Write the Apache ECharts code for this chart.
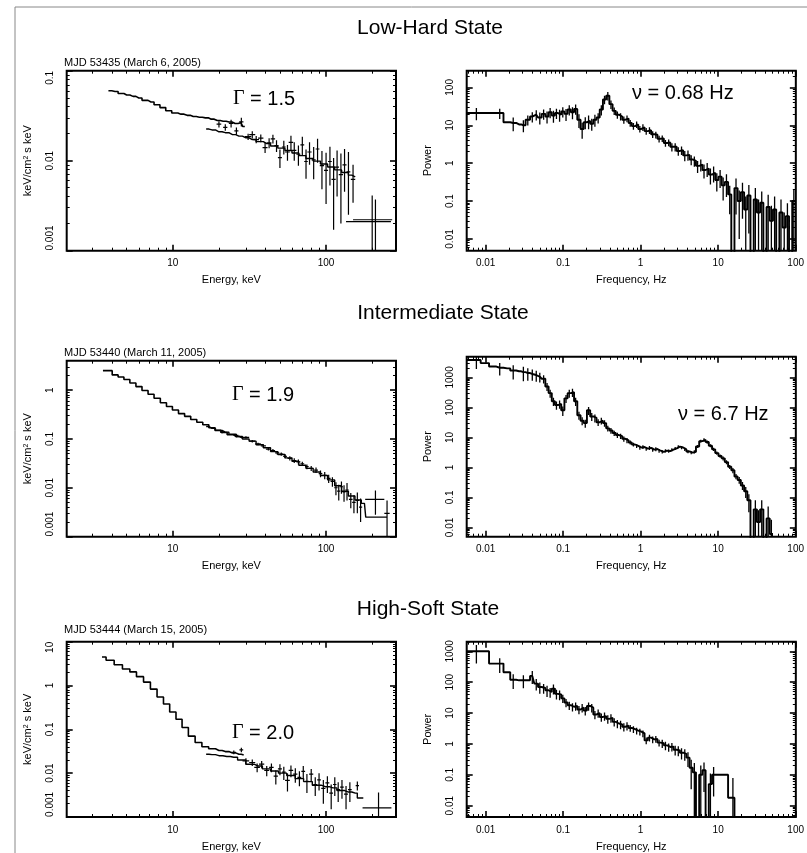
<!DOCTYPE html>
<html><head><meta charset="utf-8">
<script src="https://cdn.jsdelivr.net/npm/echarts@6/dist/echarts.min.js"></script>
<style>html,body{margin:0;padding:0;background:#fff}#c{width:807px;height:853px}</style>
</head><body><div id="c"></div>
<script>
// ---------------- tick values ----------------
const MAJOR_TICKS = [0.001, 0.01, 0.1, 1, 10, 100, 1000];
const MINOR_TICKS = [0.002,0.003,0.004,0.005,0.006,0.007,0.008,0.009,
  0.02,0.03,0.04,0.05,0.06,0.07,0.08,0.09,
  0.2,0.3,0.4,0.5,0.6,0.7,0.8,0.9,
  2,3,4,5,6,7,8,9, 20,30,40,50,60,70,80,90,
  200,300,400,500,600,700,800,900, 2000,3000,4000];

// ---------------- energy spectra ----------------
// [energy keV, flux]
const LH_PCA = [[3.8,0.060],[4.2,0.059],[4.6,0.056],[5.0,0.054],[5.5,0.052],[6.0,0.050],[6.6,0.047],[7.2,0.045],[7.9,0.042],[8.6,0.039],[9.4,0.036],[10.3,0.034],[11.3,0.033],[12.4,0.032],[13.6,0.031],[14.9,0.0305],[16.3,0.030],[17.8,0.029],[19.5,0.028],[21.3,0.0275],[23.3,0.027],[25.5,0.026],[27.8,0.0265],[29.5,0.024]];
const LH_MODEL = [[16.5,0.0225],[18,0.022],[20,0.021],[22,0.0205],[24.5,0.0195],[27,0.0188],[30,0.018],[33,0.0172],[37,0.0163],[41,0.0155],[46,0.0146],[51,0.0138],[57,0.013],[63,0.0122],[70,0.0114],[78,0.0106],[87,0.0099],[97,0.0092],[108,0.0085],[120,0.0079],[133,0.0074],[147,0.0069],[155,0.0066]];
// [energy, half-width, flux, flux error]
const LH_CROSS = [[20,0.7,0.0255,0.002],[22,0.7,0.0235,0.002],[24,0.8,0.026,0.0025],[26,0.8,0.0215,0.002],[28,0.9,0.027,0.003],
  [31,1.5,0.0185,0.0015],[33,1.5,0.0195,0.0018],[35,1.5,0.0172,0.0016],[37.5,1.5,0.0178,0.0018],[40,1.5,0.0140,0.0018],[42.5,1.5,0.0158,0.002],[45,1.5,0.0175,0.002],[47.5,1.5,0.0147,0.0022],[50,1.5,0.0108,0.0025],[53,1.5,0.0142,0.0025],[56,2,0.0125,0.0025],[59,2,0.0160,0.003],[62,2,0.0130,0.003],[66,2,0.0118,0.003],[70,2,0.0150,0.0035],[74,2,0.0098,0.0035],[78,2.5,0.0125,0.0035],[83,2.5,0.0102,0.004],[88,2.5,0.0135,0.004],[94,3,0.0088,0.004],[100,3,0.0078,0.0045],[106,3,0.0098,0.0045],[112,3.5,0.0062,0.0045],[118,3.5,0.0085,0.0045],[125,4,0.0070,0.005],[132,4,0.0090,0.0045],[140,4,0.0075,0.005],[150,5,0.0062,0.0028],
  [200,65,0.0021,0.002],[210,60,0.0022,0.0015]];

const IM_PCA = [[3.5,2.5],[3.85,2.5],[4.2,2.05],[4.6,1.85],[5.0,1.65],[5.5,1.40],[6.0,1.18],[6.6,0.98],[7.2,0.82],[7.9,0.68],[8.7,0.55],[9.5,0.46],[10.4,0.39],[11.4,0.33],[12.5,0.29],[13.7,0.25],[15.0,0.22],[16.4,0.195],[18.0,0.17],[19.7,0.15],[21.6,0.135],[23.7,0.122],[26.0,0.112],[28.5,0.105]];
const IM_MODEL = [[16.5,0.18],[18,0.165],[20,0.15],[22,0.138],[24.5,0.125],[27,0.112],[30,0.1],[33,0.09],[37,0.076],[41,0.066],[46,0.055],[51,0.048],[57,0.041],[63,0.035],[70,0.029],[78,0.025],[87,0.021],[97,0.0178],[108,0.0145],[120,0.011],[133,0.0085],[147,0.0068],[162,0.0056],[178,0.0048],[185,0.0025],[250,0.0025]];
const IM_CROSS = [[21,0.7,0.14,0.01],[26,0.8,0.118,0.01],
  [30,1.5,0.108,0.006],[33,1.5,0.090,0.005],[36,1.5,0.079,0.005],[39,1.5,0.072,0.005],[42,1.5,0.062,0.004],[45,1.5,0.058,0.004],[48,1.5,0.052,0.004],[51,1.5,0.049,0.004],[54,1.5,0.044,0.004],[58,2,0.040,0.004],[62,2,0.036,0.004],[66,2,0.034,0.004],[70,2,0.031,0.003],[75,2,0.027,0.003],[80,2.5,0.025,0.003],[86,2.5,0.023,0.003],[92,2.5,0.0195,0.003],[98,3,0.018,0.003],[104,3,0.0155,0.003],[110,3,0.0135,0.003],[116,3,0.0100,0.003],[121,3,0.0085,0.003],[126,3,0.0105,0.003],[131,3,0.0082,0.003],[137,3.5,0.0090,0.0035],[145,4,0.0058,0.002],[152,4,0.0050,0.002],[160,4,0.0055,0.0025],[168,4,0.0040,0.002],
  [210,30,0.0058,0.003],[250,10,0.003,0.0025]];

const HS_PCA = [[3.45,4.5],[3.9,3.8],[4.4,3.0],[5.0,2.4],[5.5,2.05],[6.1,1.6],[6.8,1.2],[7.5,0.83],[8.3,0.55],[9.1,0.38],[10,0.25],[11,0.17],[12,0.11],[13.3,0.07],[14.7,0.05],[16.3,0.04],[18,0.036],[20,0.033],[22,0.031],[24.5,0.029],[27,0.027],[29,0.026]];
const HS_MODEL = [[16.5,0.027],[18,0.0265],[20,0.025],[22.5,0.024],[25,0.023],[28,0.02],[32,0.016],[36,0.0145],[41,0.0125],[46,0.0112],[52,0.01],[59,0.0088],[67,0.0075],[76,0.0064],[87,0.0053],[99,0.0049],[111,0.0046],[125,0.004],[140,0.0037],[155,0.0035],[165,0.0027],[175,0.0027]];
const HS_CROSS = [[25,0.8,0.030,0.003],[28,0.8,0.034,0.004],
  [30,1.5,0.019,0.003],[33,1.5,0.0175,0.003],[35.5,1.5,0.0135,0.003],[38,1.5,0.016,0.003],[41,1.5,0.0115,0.003],[44,1.5,0.0135,0.003],[47,1.5,0.0085,0.003],[50,1.5,0.0125,0.0035],[53,1.5,0.0105,0.0035],[56,2,0.0068,0.003],[59,2,0.0115,0.0035],[63,2,0.0095,0.0035],[67,2,0.0080,0.003],[71,2,0.0110,0.0035],[75,2,0.0065,0.003],[80,2.5,0.0095,0.003],[85,2.5,0.0055,0.0025],[90,2.5,0.0070,0.003],[96,3,0.0045,0.0025],[102,3,0.0060,0.0025],[108,3,0.0035,0.002],[114,3,0.0055,0.0025],[120,3.5,0.0042,0.002],[127,3.5,0.0048,0.0022],[135,4,0.0033,0.0018],[143,4,0.0042,0.002],[160,4,0.0052,0.0012],
  [220,47,0.0016,0.002]];

// ---------------- power spectra ----------------
const FREQ = [0.0057,0.0076,0.0098,0.0125,0.0152,0.019,0.0227,0.027,0.0307,0.035,0.040,0.045,0.050,
  0.056,0.062,0.068,0.075,0.082,0.090,0.099,0.109,0.120,0.132,
  0.145,0.160,0.176,0.193,0.213,0.234,0.257,0.283,0.311,0.342,
  0.377,0.414,0.456,0.501,0.551,0.607,0.667,0.734,0.807,0.888,
  0.977,1.07,1.18,1.30,1.43,1.57,1.73,1.90,2.09,2.30,
  2.53,2.79,3.06,3.37,3.71,4.08,4.49,4.93,5.43,5.97,
  6.57,7.22,7.95,8.74,9.61,10.6,11.6,12.8,14.1,15.5,
  17.0,18.7,20.6,22.7,24.9,27.4,30.2,33.2,36.5,40.2,
  44.2,48.6,53.5,58.8,64.7,71.2,78.3,86.1,94.7,100];

const LH_POWER = [21,21,21,21,21,12,11.5,10.5,10,14,17,19,16,
  20,17,22,18,21,19,23,20,26,22,
  27,14,8,12,13,11,14,16,26,48,
  60,36,24,19,17,14,15,11.5,9.5,10.5,
  8,8.8,7,7.4,5.8,5.6,4.4,4.5,3.4,3.5,
  2.7,2.7,2.1,2.2,1.6,1.65,1.25,1.15,0.85,0.92,
  0.66,0.72,0.5,0.56,0.36,0.44,0.26,0.32,0.15,0.003,
  0.22,0.1,0.17,0.06,0.14,0.003,0.11,0.05,0.09,0.003,
  0.07,0.03,0.06,0.003,0.05,0.02,0.04,0.003,0.1,0.1];
const LH_ERR = [0,0.35,0,0,0.3,0,0.4,0,0.35,0.3,0.3,0.3,0.35,
  0.3,0.35,0.3,0.35,0.3,0.35,0.3,0.35,0.3,0.35,
  0.3,0.4,0.45,0.35,0.4,0.35,0.35,0.3,0.3,0.25,
  0.25,0.25,0.22,0.22,0.22,0.22,0.2,0.2,0.2,0.2,
  0.2,0.2,0.2,0.2,0.2,0.2,0.2,0.2,0.2,0.2,
  0.25,0.25,0.25,0.25,0.3,0.3,0.3,0.3,0.35,0.35,
  0.4,0.4,0.45,0.45,0.5,0.5,0.6,0.6,0.7,0,
  0.8,0.9,0.8,1.2,0.9,0,1.0,1.2,1.0,0,
  1.1,1.5,1.2,0,1.2,1.5,1.2,0,1.0,0];

const IM_POWER = [3800,3800,3000,2300,2100,2000,1700,1600,1500,1400,1300,1200,1050,
  900,500,300,160,120,130,80,200,300,320,
  160,55,36,30,80,50,45,32,36,30,
  20,17,14,12,11,9,8,6.8,5.8,5.2,
  4.6,4.8,4.2,4.5,3.9,4.1,3.6,3.3,3.6,3.5,
  3.9,4.3,4.9,4.6,4.0,3.4,3.1,3.3,5.0,7.5,
  8.3,7.0,5.3,4.0,3.0,2.4,2.0,1.5,1.05,0.8,
  0.5,0.38,0.25,0.16,0.08,0.003,0.04,0.015,0.04,0.003,
  0.02,0.006,null,null,null,null,null,null,null,null];
const IM_ERR = [0,0.5,0,0,0.45,0,0.5,0,0.5,0.45,0.4,0.4,0.35,
  0.3,0.3,0.3,0.3,0.3,0.3,0.35,0.3,0.3,0.3,
  0.3,0.3,0.3,0.3,0.3,0.3,0.3,0.25,0.25,0.25,
  0.22,0.22,0.2,0.2,0.2,0.2,0.2,0.15,0.15,0.15,
  0.15,0.15,0.15,0.15,0.15,0.15,0.15,0.12,0.12,0.12,
  0.12,0.12,0.12,0.12,0.12,0.12,0.12,0.12,0.12,0.12,
  0.12,0.12,0.12,0.12,0.12,0.12,0.15,0.15,0.15,0.2,
  0.2,0.25,0.3,0.4,0.6,0,1.0,1.5,1.0,0,
  1.5,2.0,0,0,0,0,0,0,0,0];

const HS_POWER = [1000,1000,1000,400,400,210,120,115,115,115,160,90,70,
  65,55,48,62,42,40,30,22,18,16,
  17,13,15,12,17,15,9,10,7.5,8,
  6.5,7,5.2,4.6,4.3,3.6,3.9,3.3,3.0,2.7,
  2.5,2.2,1.3,1.6,1.4,1.45,1.1,1.05,0.9,0.8,
  0.82,0.65,0.62,0.52,0.48,0.36,0.17,0.12,0.003,0.1,
  0.14,0.003,0.05,0.1,0.1,0.1,0.1,0.1,0.018,0.018,
  0.003,0.003,null,null,null,null,null,null,null,null,
  null,null,null,null,null,null,null,null,null,null];
const HS_ERR = [0,0.6,0,0,0.5,0,0.5,0,0.45,0,0.45,0.4,0.4,
  0.35,0.4,0.35,0.35,0.35,0.35,0.3,0.3,0.3,0.3,
  0.3,0.3,0.3,0.3,0.3,0.3,0.3,0.3,0.3,0.3,
  0.3,0.3,0.3,0.3,0.3,0.3,0.3,0.25,0.25,0.25,
  0.25,0.25,0.25,0.25,0.25,0.25,0.25,0.3,0.3,0.3,
  0.3,0.35,0.35,0.4,0.4,0.5,0.8,1.0,0,1.0,
  0.8,0,1.2,0.8,0,0,0,0,0,3.4,
  0,0,0,0,0,0,0,0,0,0,
  0,0,0,0,0,0,0,0,0,0];

// ---------------- layout ----------------
const FONT = '"Liberation Sans", Arial, Helvetica, sans-serif';
const E_RANGE = [2.03, 286];
const F_RANGE = [0.0057, 100.5];
const PANELS = [
  {grid:{left:66.7, top:70.7, width:329.3, height:180}, x:E_RANGE, y:[0.000995,0.1005], kind:'E', alignMax:true},
  {grid:{left:466.7, top:70.7, width:332.3, height:180}, x:F_RANGE, y:[0.0049,275], kind:'P'},
  {grid:{left:66.7, top:360.7, width:329.3, height:176}, x:E_RANGE, y:[0.000995,4], kind:'E', alignMax:false},
  {grid:{left:466.7, top:356.7, width:332.3, height:180}, x:F_RANGE, y:[0.0049,4900], kind:'P'},
  {grid:{left:66.7, top:641.7, width:329.3, height:180}, x:E_RANGE, y:[0.000995,10.05], kind:'E', alignMax:true},
  {grid:{left:466.7, top:641.7, width:332.3, height:180}, x:F_RANGE, y:[0.0043,2050], kind:'P'}
];

function inRange(list, r){ return list.filter(v => v >= r[0] && v <= r[1]); }
function fmt(v){ return String(parseFloat(Number(v).toPrecision(4))); }

const grids = [], xAxes = [], yAxes = [], series = [];

function baseAxis(g, pos, r){
  return {type:'log', logBase:10, gridIndex:g, position:pos, min:r[0], max:r[1],
    axisLine:{show:false}, splitLine:{show:false}, minorTick:{show:false}, minorSplitLine:{show:false},
    axisLabel:{show:false}, axisTick:{show:false}, axisPointer:{show:false}};
}
function majorTick(r){ return {show:true, inside:true, length:6, lineStyle:{color:'#000', width:1.6}, customValues: inRange(MAJOR_TICKS, r)}; }
function minorTick(r){ return {show:true, inside:true, length:3, lineStyle:{color:'#000', width:1}, customValues: inRange(MINOR_TICKS, r)}; }

PANELS.forEach((p, g) => {
  grids.push(Object.assign({show:true, borderColor:'#000', borderWidth:2, backgroundColor:'rgba(0,0,0,0)'}, p.grid));
  const xMain = baseAxis(g, 'bottom', p.x);
  xMain.axisTick = majorTick(p.x);
  xMain.axisLabel = {show:true, customValues: inRange(MAJOR_TICKS, p.x), formatter: fmt, fontSize:10, fontFamily:FONT, color:'#000', margin:8};
  xMain.name = p.kind === 'E' ? 'Energy, keV' : 'Frequency, Hz';
  xMain.nameLocation = 'middle'; xMain.nameGap = 24;
  xMain.nameTextStyle = {fontSize:11, fontFamily:FONT, color:'#000'};
  const xMinor = baseAxis(g, 'bottom', p.x); xMinor.axisTick = minorTick(p.x);
  const xTop = baseAxis(g, 'top', p.x); xTop.axisTick = majorTick(p.x);
  const xTopMinor = baseAxis(g, 'top', p.x); xTopMinor.axisTick = minorTick(p.x);
  xAxes.push(xMain, xMinor, xTop, xTopMinor);
  const yMain = baseAxis(g, 'left', p.y);
  yMain.axisTick = majorTick(p.y);
  const lab = {show:true, customValues: inRange(MAJOR_TICKS, p.y), formatter: fmt, rotate:90, fontSize:10, fontFamily:FONT, color:'#000', margin:11};
  if (p.kind === 'E') { lab.alignMinLabel = 'left'; if (p.alignMax) lab.alignMaxLabel = 'right'; }
  yMain.axisLabel = lab;
  yMain.nameLocation = 'middle'; yMain.nameGap = 33; yMain.nameRotate = 90;
  if (p.kind === 'E') {
    yMain.name = 'keV/cm{sup|2} s keV';
    yMain.nameTextStyle = {fontSize:11, fontFamily:FONT, color:'#000', rich:{sup:{fontSize:7, fontFamily:FONT, color:'#000', verticalAlign:'top'}}};
  } else {
    yMain.name = 'Power';
    yMain.nameTextStyle = {fontSize:11, fontFamily:FONT, color:'#000'};
  }
  const yMinor = baseAxis(g, 'left', p.y); yMinor.axisTick = minorTick(p.y);
  const yRight = baseAxis(g, 'right', p.y); yRight.axisTick = majorTick(p.y);
  const yRightMinor = baseAxis(g, 'right', p.y); yRightMinor.axisTick = minorTick(p.y);
  yAxes.push(yMain, yMinor, yRight, yRightMinor);
});

function crossRender(ymin){
  return function(params, api){
    const E = api.value(0), dE = api.value(1), F = api.value(2), dF = api.value(3);
    const c = api.coord([E, F]);
    const xl = api.coord([E - dE, F])[0], xr = api.coord([E + dE, F])[0];
    const yt = api.coord([E, F + dF])[1];
    const yb = api.coord([E, Math.max(F - dF, ymin)])[1];
    return {type:'group', children:[
      {type:'line', shape:{x1:xl, y1:c[1], x2:xr, y2:c[1]}, style:{stroke:'#000', lineWidth:1.2}},
      {type:'line', shape:{x1:c[0], y1:yt, x2:c[0], y2:yb}, style:{stroke:'#000', lineWidth:1.2}}
    ]};
  };
}
function errRender(ymin){
  return function(params, api){
    const f = api.value(0), P = api.value(1), e = api.value(2);
    if (!(P > ymin) || !(e > 0)) return null;
    const c = api.coord([f, P]);
    const yt = api.coord([f, P * (1 + e)])[1];
    const yb = api.coord([f, Math.max(P * (1 - e), ymin)])[1];
    return {type:'line', shape:{x1:c[0], y1:yt, x2:c[0], y2:yb}, style:{stroke:'#000', lineWidth:1.3}};
  };
}

function addEnergy(g, pca, model, cross){
  const ymin = PANELS[g].y[0];
  series.push({type:'line', xAxisIndex:4*g, yAxisIndex:4*g, data:pca, step:'middle', symbol:'none', lineStyle:{color:'#000', width:1.6}, silent:true, animation:false});
  series.push({type:'line', xAxisIndex:4*g, yAxisIndex:4*g, data:model, step:'middle', symbol:'none', lineStyle:{color:'#000', width:1.4}, silent:true, animation:false});
  series.push({type:'custom', xAxisIndex:4*g, yAxisIndex:4*g, data:cross, renderItem:crossRender(ymin), clip:true, silent:true, animation:false});
}
function addPower(g, power, err){
  const ymin = PANELS[g].y[0];
  series.push({type:'line', xAxisIndex:4*g, yAxisIndex:4*g, data:FREQ.map((f,i) => [f, power[i]]), step:'middle', symbol:'none', connectNulls:false, lineStyle:{color:'#000', width:1.9}, silent:true, animation:false});
  series.push({type:'custom', xAxisIndex:4*g, yAxisIndex:4*g, data:FREQ.map((f,i) => [f, power[i], err[i]]), renderItem:errRender(ymin), clip:true, silent:true, animation:false});
}
addEnergy(0, LH_PCA, LH_MODEL, LH_CROSS);
addPower(1, LH_POWER, LH_ERR);
addEnergy(2, IM_PCA, IM_MODEL, IM_CROSS);
addPower(3, IM_POWER, IM_ERR);
addEnergy(4, HS_PCA, HS_MODEL, HS_CROSS);
addPower(5, HS_POWER, HS_ERR);

function txt(x, y, text, size, align, rich){
  const st = {text:text, font: size + 'px ' + FONT, fill:'#000', align:align, textAlign:align, verticalAlign:'middle', textVerticalAlign:'middle'};
  if (rich) st.rich = rich;
  return {type:'text', x:x, y:y, style:st, silent:true, z:10};
}
const GREEK = {g:{font:'20px "Liberation Serif", "DejaVu Serif", serif', fill:'#000'}};
const graphic = [
  {type:'rect', shape:{x:15, y:7, width:830, height:900}, style:{fill:'none', stroke:'#888', lineWidth:1}, silent:true},
  txt(430, 28, 'Low-Hard State', 21, 'center'),
  txt(443, 313, 'Intermediate State', 21, 'center'),
  txt(428, 609, 'High-Soft State', 21, 'center'),
  txt(64, 62.5, 'MJD 53435 (March 6, 2005)', 11, 'left'),
  txt(64, 352.5, 'MJD 53440 (March 11, 2005)', 11, 'left'),
  txt(64, 630, 'MJD 53444 (March 15, 2005)', 11, 'left'),
  txt(233, 99, '{g|Γ} = 1.5', 20, 'left', GREEK),
  txt(232, 395, '{g|Γ} = 1.9', 20, 'left', GREEK),
  txt(232, 733, '{g|Γ} = 2.0', 20, 'left', GREEK),
  txt(632, 93, 'ν = 0.68 Hz', 20, 'left'),
  txt(678, 414, 'ν = 6.7 Hz', 20, 'left')
];

const chart = echarts.init(document.getElementById('c'), null, {renderer:'canvas'});
chart.setOption({animation:false, backgroundColor:'#fff', grid:grids, xAxis:xAxes, yAxis:yAxes, series:series, graphic:graphic});
</script>
</body></html>
